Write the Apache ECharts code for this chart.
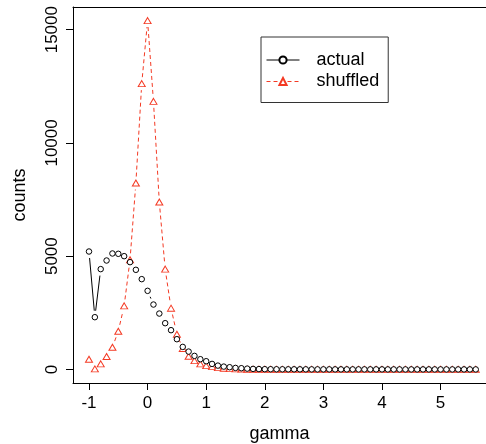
<!DOCTYPE html>
<html>
<head>
<meta charset="utf-8">
<script src="https://cdn.jsdelivr.net/npm/echarts@6/dist/echarts.min.js"></script>
<style>
html,body{margin:0;padding:0;background:#fff;}
#chart{width:486px;height:444px;}
</style>
</head>
<body>
<div id="chart"></div>
<script>
// gamma values from -1.0 to 5.6 in steps of 0.1
var gamma = [
  -1.0,-0.9,-0.8,-0.7,-0.6,-0.5,-0.4,-0.3,-0.2,-0.1,
  0.0,0.1,0.2,0.3,0.4,0.5,0.6,0.7,0.8,0.9,
  1.0,1.1,1.2,1.3,1.4,1.5,1.6,1.7,1.8,1.9,
  2.0,2.1,2.2,2.3,2.4,2.5,2.6,2.7,2.8,2.9,
  3.0,3.1,3.2,3.3,3.4,3.5,3.6,3.7,3.8,3.9,
  4.0,4.1,4.2,4.3,4.4,4.5,4.6,4.7,4.8,4.9,
  5.0,5.1,5.2,5.3,5.4,5.5,5.6
];
var actual = [
  5205,2306,4428,4808,5118,5104,5000,4735,4397,3985,
  3469,2864,2466,2041,1732,1334,994,787,597,451,
  362,243,168,124,97,66,53,35,22,15,
  10,8,6,5,4,4,3,3,2,2,
  2,2,1,1,1,1,1,1,1,1,
  1,0,0,0,0,0,0,0,0,0,
  0,0,0,0,0,0,0
];
var shuffled = [
  451,22,243,567,981,1688,2806,4839,8228,12616,
  15400,11834,7388,4428,2704,1555,921,583,389,243,
  168,124,80,55,35,25,15,10,7,5,
  4,3,3,2,2,2,1,1,1,1,
  1,1,1,1,0,0,0,0,0,0,
  0,0,0,0,0,0,0,0,0,0,
  0,0,0,0,0,0,0
];
var xTicks = [-1,0,1,2,3,4,5];
var yTicks = [0,5000,10000,15000];
var seriesNames = ['actual','shuffled'];

var BLACK = '#000000';
var RED = '#f43a24';
var font = 'Liberation Sans, Arial, sans-serif';

function pairs(xs, ys){ return xs.map(function(x,i){ return [x, ys[i]]; }); }
function segments(xs, ys){
  var out = [];
  for (var i = 0; i < xs.length - 1; i++) out.push([xs[i], ys[i], xs[i+1], ys[i+1]]);
  return out;
}
// R type="b": segments between points, shortened by a gap at each end
function gapRenderer(color, dash){
  return function(params, api){
    var p1 = api.coord([api.value(0), api.value(1)]);
    var p2 = api.coord([api.value(2), api.value(3)]);
    var dx = p2[0]-p1[0], dy = p2[1]-p1[1];
    var len = Math.sqrt(dx*dx+dy*dy);
    var gap = 6.5;
    if (len <= 2*gap) return null;
    var ux = dx/len, uy = dy/len;
    return {
      type:'line',
      shape:{x1:p1[0]+ux*gap, y1:p1[1]+uy*gap, x2:p2[0]-ux*gap, y2:p2[1]-uy*gap},
      style:{stroke:color, lineWidth:1, lineDash:dash}
    };
  };
}

var chart = echarts.init(document.getElementById('chart'), null, {renderer:'canvas'});
chart.setOption({
  animation:false,
  backgroundColor:'#fff',
  textStyle:{fontFamily:font},
  grid:{left:73, top:7, right:0, bottom:61, show:false, containLabel:false, outerBoundsMode:'none'},
  legend:{
    orient:'vertical', left:261, top:37,
    data:[
      {name:seriesNames[0], lineStyle:{opacity:1, color:BLACK, width:1, type:'solid'}},
      {name:seriesNames[1], lineStyle:{opacity:1, color:RED, width:1, type:[4,3]}}
    ],
    itemWidth:33, itemHeight:9, itemGap:3.5,
    padding:[14,9,12,5],
    borderColor:'#333', borderWidth:1,
    textStyle:{fontSize:18, color:'#000', fontFamily:font, padding:[0,0,0,12]}
  },
  xAxis:[{
    type:'value', min:-1.273, max:5.775,
    name:'gamma', nameLocation:'middle', nameGap:42,
    nameTextStyle:{fontSize:18, color:'#000', fontFamily:font},
    axisLine:{show:true, onZero:false, lineStyle:{color:'#000', width:1}},
    axisTick:{show:true, length:7, customValues:xTicks, lineStyle:{color:'#000'}},
    axisLabel:{customValues:xTicks, fontSize:17, color:'#000', margin:12, fontFamily:font},
    splitLine:{show:false}
  },{
    type:'value', position:'top', min:-1.273, max:5.775,
    axisLine:{show:true, onZero:false, lineStyle:{color:'#000', width:1}},
    axisTick:{show:false}, axisLabel:{show:false}, splitLine:{show:false}
  }],
  yAxis:{
    type:'value', min:-600, max:16000,
    name:'counts', nameLocation:'middle', nameGap:44,
    nameTextStyle:{fontSize:18, color:'#000', fontFamily:font},
    axisLine:{show:true, onZero:false, lineStyle:{color:'#000', width:1}},
    axisTick:{show:true, length:7, customValues:yTicks, lineStyle:{color:'#000'}},
    axisLabel:{customValues:yTicks, rotate:90, fontSize:17, color:'#000', margin:12, fontFamily:font,
      formatter:function(v){ return String(v); }},
    splitLine:{show:false}
  },
  series:[{
    name:seriesNames[1], type:'line', xAxisIndex:0,
    data:pairs(gamma, shuffled),
    symbol:'triangle', symbolSize:[7,6],
    lineStyle:{opacity:0},
    itemStyle:{color:'#ffffff', borderColor:RED, borderWidth:1},
    z:2
  },{
    name:seriesNames[0], type:'line', xAxisIndex:0,
    data:pairs(gamma, actual),
    symbol:'circle', symbolSize:5.5,
    lineStyle:{opacity:0},
    itemStyle:{color:'#ffffff', borderColor:BLACK, borderWidth:1},
    z:3
  },{
    name:'shuffled-segments', type:'custom', xAxisIndex:0,
    data:segments(gamma, shuffled),
    encode:{x:[0,2], y:[1,3]},
    renderItem:gapRenderer(RED, [4,3]),
    silent:true, z:1
  },{
    name:'actual-segments', type:'custom', xAxisIndex:0,
    data:segments(gamma, actual),
    encode:{x:[0,2], y:[1,3]},
    renderItem:gapRenderer(BLACK, null),
    silent:true, z:1
  }]
});
</script>
</body>
</html>
